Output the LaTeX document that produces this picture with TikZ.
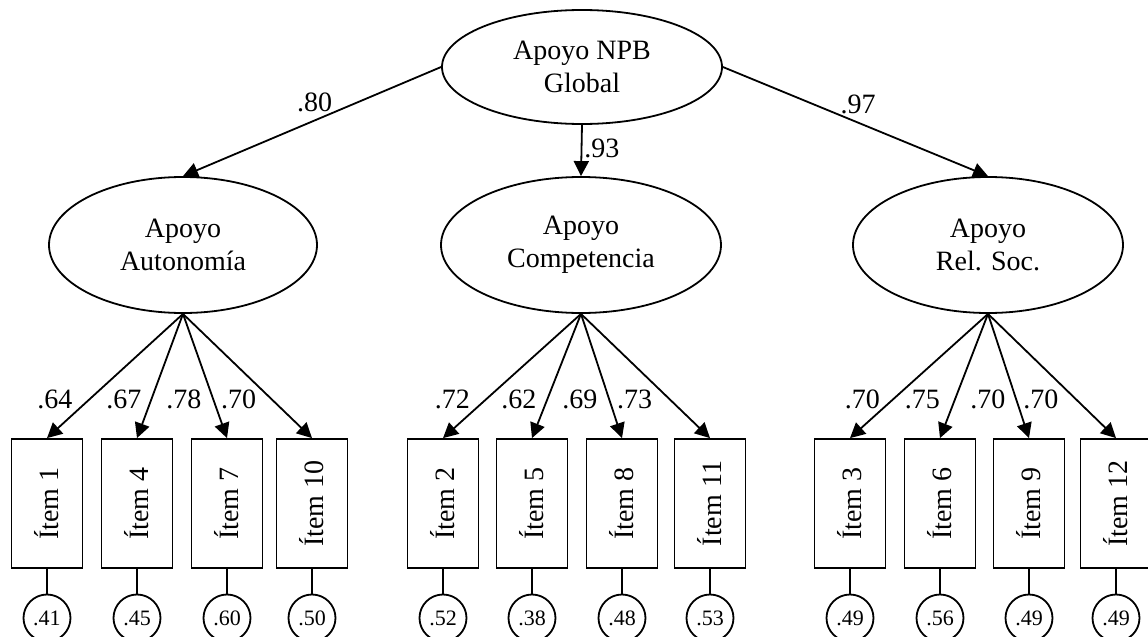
\documentclass[tikz,border=0pt]{standalone}
\usepackage{fontspec}
\setmainfont{Liberation Serif}
\usetikzlibrary{arrows.meta,positioning,shapes.geometric}

\tikzset{
  latent/.style={draw, ellipse, inner sep=0pt, align=center,
    font=\fontsize{14}{16.5}\selectfont},
  item/.style={draw, rectangle, inner sep=0pt, minimum width=35.5pt,
    minimum height=64.5pt, font=\fontsize{14}{16.5}\selectfont},
  errc/.style={draw, circle, inner sep=0pt, minimum size=23.5pt,
    font=\fontsize{11}{13}\selectfont},
  load/.style={inner sep=0pt, font=\fontsize{14}{16.5}\selectfont},
}

\begin{document}
\begin{tikzpicture}[>={Triangle[length=7.5pt,width=7.5pt]}, x=0.5pt, y=-0.5pt, line width=0.9pt]
  \useasboundingbox (0,0) rectangle (1148,637);
  \clip (0,0) rectangle (1148,637);

  % second-order factor and first-order factors
  \node[latent, minimum width=140pt, minimum height=57pt] (global) at (582,67) {Apoyo NPB\\Global};
  \node[latent, minimum width=134pt, minimum height=68pt] (auto) at (183,245) {Apoyo\\Autonomía};
  \node[latent, minimum width=140pt, minimum height=68pt] (comp) at (581,245) {Apoyo\\Competencia};
  \node[latent, minimum width=135pt, minimum height=68pt] (rel) at (988,245) {Apoyo\\Rel. Soc.};

  \draw[->] (global.west) -- node[load, pos=0.49, above=4pt] {.80} (auto.north);
  \draw[->] (global.south) -- node[load, pos=0.45, right=1pt] {.93} (comp.north);
  \draw[->] (global.east) -- node[load, pos=0.51, above=4pt] {.97} (rel.north);

  % items: x / number / factor / loading / error / label gap
  \foreach \x/\n/\f/\l/\e/\g in {
      47/1/auto/.64/.41/8, 137/4/auto/.67/.45/4.5, 227/7/auto/.78/.60/5.5, 312/10/auto/.70/.50/7.5,
      443/2/comp/.72/.52/7.5, 532/5/comp/.62/.38/5, 622/8/comp/.69/.48/5.5, 710/11/comp/.73/.53/8.5,
      850/3/rel/.70/.49/6, 940/6/rel/.75/.56/7, 1029/9/rel/.70/.49/5, 1116/12/rel/.70/.49/8.5}{
    \node[item] (i\n) at (\x,503.5) {\rotatebox{90}{Ítem \n}};
    \node[errc] (e\n) at (\x,618) {\e};
    \draw[->] (\f.south) -- node[load, pos=0.69, left=\g pt] {\l} (i\n.north);
    \draw (i\n) -- (e\n);
  }
\end{tikzpicture}
\end{document}
